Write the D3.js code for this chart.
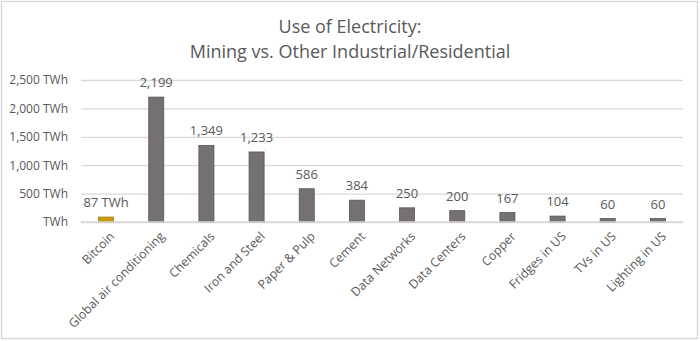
<!DOCTYPE html>
<html>
<head>
<meta charset="utf-8">
<script src="https://cdn.jsdelivr.net/npm/d3@7"></script>
<style>
	body { margin: 0; background: #fff; }
	svg text { font-family: "Open Sans", "Noto Sans", sans-serif; fill: #595959; }
</style>
</head>
<body>
<div class="chart"></div>
<script>
// electricity use by sector, TWh per year
const categories = ['Bitcoin', 'Global air conditioning', 'Chemicals', 'Iron and Steel',
	'Paper & Pulp', 'Cement', 'Data Networks', 'Data Centers', 'Copper',
	'Fridges in US', 'TVs in US', 'Lighting in US'];
const values = [87, 2199, 1349, 1233, 586, 384, 250, 200, 167, 104, 60, 60];
const yTicks = [0, 500, 1000, 1500, 2000, 2500];
const titleLines = ['Use of Electricity:', 'Mining vs. Other Industrial/Residential'];

const outerW = 700,
	outerH = 341;

const margin = { left: 81, right: 17, top: 80, bottom: 119 };
const w = outerW - margin.left - margin.right,
	h = outerH - margin.top - margin.bottom;

const fmt = d3.format(',');

const svg = d3.select('.chart').append('svg')
	.attr('width', outerW)
	.attr('height', outerH);

// chart frame
svg.append('rect')
	.attr('x', 1.5).attr('y', 1.5)
	.attr('width', outerW - 4).attr('height', outerH - 4)
	.attr('fill', '#fff')
	.attr('stroke', '#d9d9d9')
	.attr('stroke-width', 1.5);

svg.append('g').selectAll('text')
	.data(titleLines)
	.enter().append('text')
	.attr('x', 350)
	.attr('y', (d, i) => 33 + i * 25)
	.attr('text-anchor', 'middle')
	.style('font-size', '18px')
	.text(d => d);

const g = svg.append('g')
	.attr('transform', `translate(${margin.left}, ${margin.top})`);

const x = d3.scaleBand().domain(categories).range([0, w]).paddingInner(0.7).paddingOuter(0.35);
const y = d3.scaleLinear().domain([0, 2500]).range([h, 0]);

// gridlines + y labels
const yAxis = g.append('g')
	.call(d3.axisLeft(y)
		.tickValues(yTicks)
		.tickSize(-w)
		.tickPadding(13)
		.tickFormat(d => d === 0 ? 'TWh' : fmt(d) + ' TWh'));
yAxis.select('.domain').remove();
yAxis.selectAll('line').attr('stroke', '#d9d9d9').attr('stroke-width', 1.3);
yAxis.selectAll('text').style('font-size', '12px').attr('fill', '#595959');

g.selectAll('.bar')
	.data(values)
	.enter().append('rect')
	.attr('class', 'bar')
	.attr('x', (d, i) => x(categories[i]))
	.attr('y', d => y(d))
	.attr('width', x.bandwidth())
	.attr('height', d => h - y(d))
	.attr('fill', (d, i) => i === 0 ? '#c99a0c' : '#767171')
	.attr('stroke', (d, i) => i === 0 ? '#a67f0a' : '#5a5656')
	.attr('stroke-width', 0.8);

// value labels
g.selectAll('.val')
	.data(values)
	.enter().append('text')
	.attr('class', 'val')
	.attr('x', (d, i) => x(categories[i]) + x.bandwidth() / 2)
	.attr('y', d => y(d) - 10)
	.attr('text-anchor', 'middle')
	.style('font-size', '13px')
	.text((d, i) => i === 0 ? d + ' TWh' : fmt(d));

// baseline
g.append('line')
	.attr('x1', 0).attr('x2', w)
	.attr('y1', h).attr('y2', h)
	.attr('stroke', '#d9d9d9')
	.attr('stroke-width', 1.3);

// rotated category labels
g.selectAll('.cat')
	.data(categories)
	.enter().append('text')
	.attr('class', 'cat')
	.attr('transform', d => `translate(${x(d) + x.bandwidth() / 2 + 3}, ${h + 9}) rotate(-45)`)
	.attr('text-anchor', 'end')
	.attr('dy', '0.7em')
	.style('font-size', '12.3px')
	.text(d => d);
</script>
</body>
</html>
